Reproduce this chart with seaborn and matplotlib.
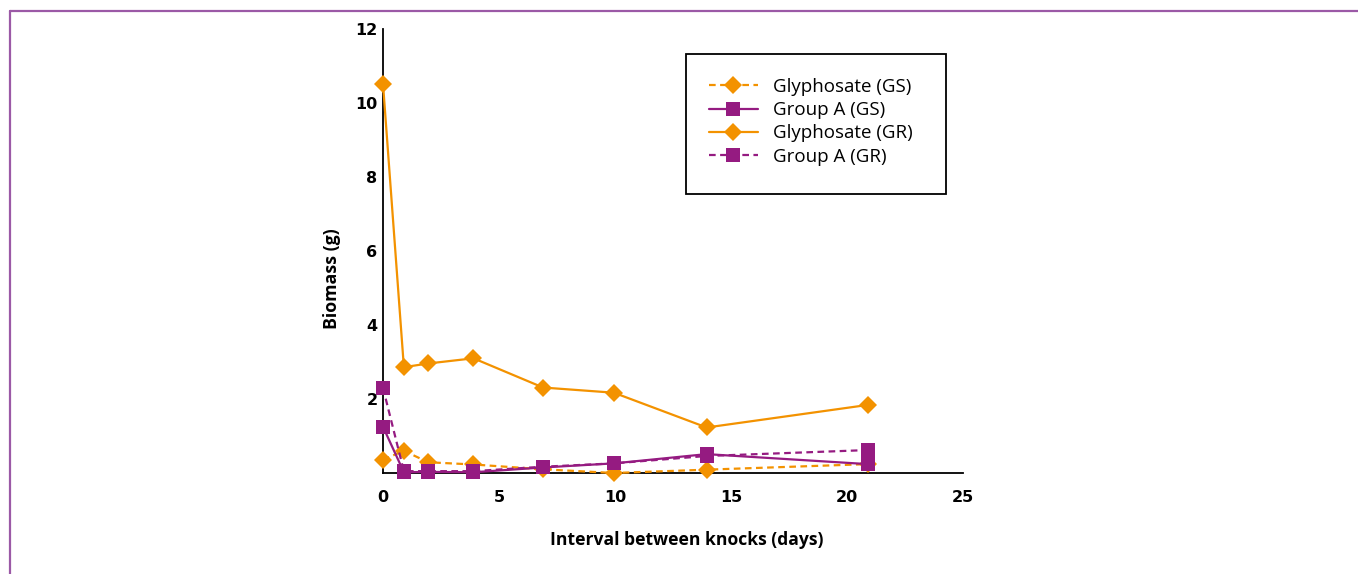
import matplotlib
matplotlib.use("Agg")
import matplotlib.pyplot as plt
import seaborn as sns
from matplotlib.lines import Line2D
from matplotlib.patches import Rectangle

# ---- data ----
days = [0, 0.9, 1.95, 3.9, 6.9, 9.95, 13.95, 20.9]
glyphosate_gs = [0.36, 0.60, 0.29, 0.23, 0.10, 0.0, 0.09, 0.24]
group_a_gs = [1.25, 0.02, 0.03, 0.02, 0.15, 0.26, 0.51, 0.24]
glyphosate_gr = [10.52, 2.86, 2.96, 3.10, 2.31, 2.17, 1.23, 1.84]
group_a_gr = [2.30, 0.05, 0.05, 0.05, 0.17, 0.26, 0.46, 0.62]
series_labels = ["Glyphosate (GS)", "Group A (GS)", "Glyphosate (GR)", "Group A (GR)"]
x_ticks = [0, 5, 10, 15, 20, 25]
y_ticks = [2, 4, 6, 8, 10, 12]

ORANGE = "#f39200"
PURPLE = "#951b81"

sns.set_theme(style="white")
plt.rcParams['font.family'] = ['Open Sans', 'DejaVu Sans']

fig = plt.figure(figsize=(13.58, 5.74), dpi=100)
ax = fig.add_axes([383/1358, 1-473/574, 580/1358, 444/574])

styles = [
    (glyphosate_gs, ORANGE, "D", (0, (3, 2)), 9),
    (group_a_gs, PURPLE, "s", "-", 10),
    (glyphosate_gr, ORANGE, "D", "-", 9),
    (group_a_gr, PURPLE, "s", (0, (3, 2)), 10),
]
for (vals, col, mk, ls, ms), lab in zip(styles, series_labels):
    sns.lineplot(x=days, y=vals, ax=ax, color=col, marker=mk, linestyle=ls,
                 markersize=ms, markeredgewidth=0, linewidth=1.6,
                 label=lab, clip_on=False, sort=False, zorder=3)

ax.set_xlim(0, 25)
ax.set_ylim(0, 12)
ax.set_xticks(x_ticks)
ax.set_yticks(y_ticks)
for s in ["top", "right"]:
    ax.spines[s].set_visible(False)
for s in ["left", "bottom"]:
    ax.spines[s].set_color("black")
    ax.spines[s].set_linewidth(1.3)
ax.tick_params(axis="both", direction="inout", length=8, width=1.3, color="black",
               labelsize=11.5, labelcolor="black")
ax.tick_params(axis="y", pad=0)
ax.tick_params(axis="x", pad=8)
for t in ax.get_xticklabels() + ax.get_yticklabels():
    t.set_fontweight("bold")
    t.set_family(["DejaVu Sans"])

ax.set_xlabel("Interval between knocks (days)", fontsize=12.6, fontweight="bold", color="black")
ax.set_ylabel("Biomass (g)", fontsize=12.8, fontweight="bold", color="black")
ax.xaxis.set_label_coords((687-383)/580, (473-531)/444)
ax.yaxis.set_label_coords((341-383)/580, (473-279)/444)

# legend box
x0 = (686-383)/580
y0 = (473-194)/444
w = (946-686)/580
h = (194-54)/444
ax.add_patch(Rectangle((x0, y0), w, h, transform=ax.transAxes, fill=False,
                       edgecolor="black", linewidth=1.3, clip_on=False, zorder=4))
leg = ax.legend(loc="upper left", bbox_to_anchor=((709-383)/580, (473-78)/444),
                frameon=False, fontsize=13.5, handlelength=2.6, handletextpad=0.8,
                labelspacing=0.28, borderpad=0, borderaxespad=0)
for t in leg.get_texts():
    t.set_color("black")

# outer purple frame (clipped at right/bottom)
fig.add_artist(Line2D([10/1358, 1], [1-11/574, 1-11/574], transform=fig.transFigure,
                      color="#9b59a6", linewidth=1.6))
fig.add_artist(Line2D([10/1358, 10/1358], [0, 1-11/574], transform=fig.transFigure,
                      color="#9b59a6", linewidth=1.6))

fig.savefig("out.png", dpi=100)
